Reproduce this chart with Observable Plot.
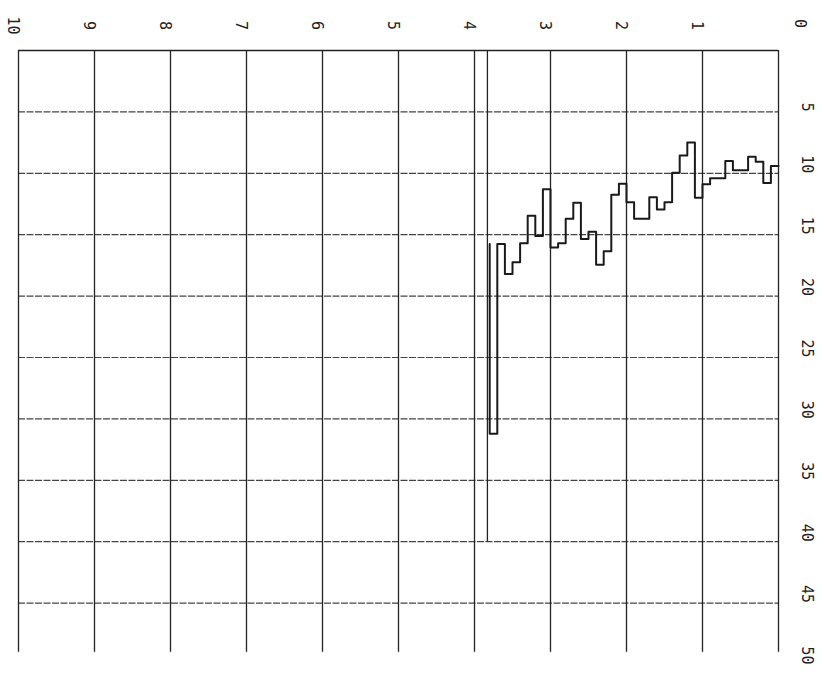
<!DOCTYPE html>
<html><head><meta charset="utf-8">
<script src="https://cdn.jsdelivr.net/npm/d3@7"></script>
<script src="https://cdn.jsdelivr.net/npm/@observablehq/plot@0.6"></script>
<style>body{margin:0;background:#fff}</style>
</head><body><div id="chart"></div>
<script>
// Horizontal value axis (reversed, 10 at left, 0 at right)
const valueTicks = [10, 9, 8, 7, 6, 5, 4, 3, 2, 1, 0];
const valueTickLabels = ["10", "9", "8", "7", "6", "5", "4", "3", "2", "1"];
const cornerLabel = ["0"];
// Vertical depth axis (0 at top, 50 at bottom)
const depthTickLabels = [5, 10, 15, 20, 25, 30, 35, 40, 45, 50];
const depthGrid = [5, 10, 15, 20, 25, 30, 35, 40, 45];
// Step series: bin starts (value axis) and the depth of each bin
const binStarts = [0.0, 0.1, 0.2, 0.3, 0.4, 0.5, 0.6, 0.7, 0.8, 0.9,
  1.0, 1.1, 1.2, 1.3, 1.4, 1.5, 1.6, 1.7, 1.8, 1.9,
  2.0, 2.1, 2.2, 2.3, 2.4, 2.5, 2.6, 2.7, 2.8, 2.9,
  3.0, 3.1, 3.2, 3.3, 3.4, 3.5, 3.6, 3.7];
const binDepths = [9.4, 10.8, 9.05, 8.65, 9.75, 9.75, 9.0, 10.4, 10.4, 10.9,
  12.0, 7.5, 8.55, 9.95, 12.35, 12.95, 11.95, 13.7, 13.7, 12.35,
  10.85, 11.75, 16.35, 17.45, 14.75, 15.35, 12.4, 13.7, 15.7, 16.05,
  11.3, 15.1, 13.45, 15.7, 17.25, 18.2, 15.75, 31.2];
const seriesEnd = {value: 3.8, depth: 15.75};
// Extra vertical marker line
const markerValue = [3.83];
const markerDepthEnd = 40;
const gridDepthEnd = 49;

const points = binStarts.map((v, i) => ({value: v, depth: binDepths[i]}));
points.push(seriesEnd);

const font = "'DejaVu Sans Mono', monospace";

const chart = Plot.plot({
  width: 824,
  height: 675,
  marginLeft: 18,
  marginRight: 46,
  marginTop: 50,
  marginBottom: 11,
  x: {domain: [10, 0], axis: null},
  y: {domain: [0, 50], reverse: true, axis: null},
  style: {background: "#fff", fontFamily: font},
  marks: [
    Plot.ruleY(depthGrid, {y: d => d, x1: 10, x2: 0, stroke: "#444", strokeWidth: 1.2, strokeDasharray: "7,1.5"}),
    Plot.ruleY([0], {y: d => d, x1: 10, x2: 0, stroke: "#222", strokeWidth: 1.4}),
    Plot.ruleX(valueTicks, {x: d => d, y1: 0, y2: gridDepthEnd, stroke: "#222", strokeWidth: 1.3}),
    Plot.ruleX(markerValue, {x: d => d, y1: 0, y2: markerDepthEnd, stroke: "#222", strokeWidth: 1.3}),
    Plot.line(points, {x: "value", y: "depth", curve: "step-after", stroke: "#1a1a1a", strokeWidth: 2}),
    Plot.text(valueTickLabels, {x: d => +d, text: d => d, frameAnchor: "top", dy: -25, rotate: 90, fontSize: 15, fill: "#222"}),
    Plot.text(cornerLabel, {x: d => +d, text: d => d, frameAnchor: "top", dx: 27, dy: -27, rotate: 90, fontSize: 15, fill: "#222"}),
    Plot.text(depthTickLabels, {y: d => d, text: d => String(d), frameAnchor: "right", dx: 28, rotate: 90, fontSize: 15, fill: "#222"})
  ]
});
document.getElementById("chart").appendChild(chart);
</script>
</body></html>
